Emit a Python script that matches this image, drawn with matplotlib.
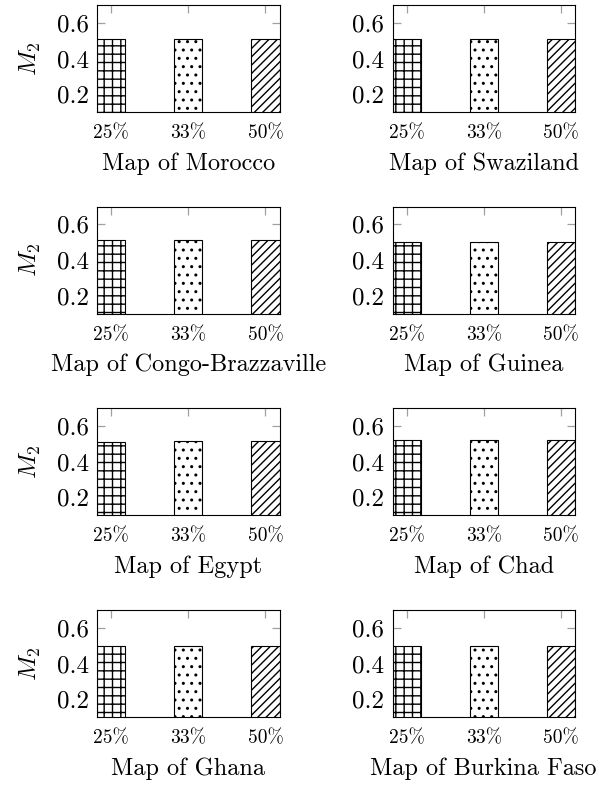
import matplotlib
matplotlib.use("Agg")
import matplotlib.pyplot as plt

plt.rcParams['font.family'] = ['cmr10', 'DejaVu Serif']
plt.rcParams['mathtext.fontset'] = 'cm'
plt.rcParams['axes.formatter.use_mathtext'] = True
plt.rcParams['axes.unicode_minus'] = False
plt.rcParams['hatch.linewidth'] = 1.0

maps = ["Morocco", "Swaziland", "Congo-Brazzaville", "Guinea",
        "Egypt", "Chad", "Ghana", "Burkina Faso"]
categories = ["25%", "33%", "50%"]
values = {
    "Morocco":           [0.507, 0.507, 0.507],
    "Swaziland":         [0.510, 0.510, 0.508],
    "Congo-Brazzaville": [0.510, 0.510, 0.510],
    "Guinea":            [0.503, 0.503, 0.503],
    "Egypt":             [0.512, 0.517, 0.517],
    "Chad":              [0.520, 0.520, 0.520],
    "Ghana":             [0.496, 0.496, 0.496],
    "Burkina Faso":      [0.498, 0.498, 0.498],
}
yticks = [0.2, 0.4, 0.6]
hatches = ['++', '..', '////']

W, H = 599, 785
fig = plt.figure(figsize=(W/100, H/100), dpi=100)

lefts = [97/W, 392.5/W]
width = 182.5/W
bottoms_px = [112, 313.5, 515, 717]
height = 107/H

bar_w = 0.364
for i, name in enumerate(maps):
    r, c = divmod(i, 2)
    ax = fig.add_axes([lefts[c], 1 - bottoms_px[r]/H, width, height])
    xs = list(range(len(categories)))
    for x, v, h in zip(xs, values[name], hatches):
        ax.bar(x, v, width=bar_w, facecolor='white', edgecolor='black',
               hatch=h, linewidth=0.8, zorder=2)
    ax.set_xlim(-bar_w/2, len(categories) - 1 + bar_w/2)
    ax.set_ylim(0.1, 0.7)
    ax.set_xticks(xs)
    ax.set_xticklabels(categories, fontsize=14)
    ax.set_yticks(yticks)
    ax.set_yticklabels([f"{t:.1f}" for t in yticks], fontsize=18)
    ax.tick_params(direction='in', top=True, right=True, length=6,
                   width=0.9, color='#a0a0a0', pad=6)
    ax.tick_params(axis='x', pad=9)
    for s in ax.spines.values():
        s.set_linewidth(0.8)
        s.set_zorder(5)
    ax.set_xlabel(f"Map of {name}", fontsize=17.5, labelpad=7)
    if c == 0:
        ax.set_ylabel(r"$M_2$", fontsize=18, labelpad=10)

fig.savefig("out.png", dpi=100)
